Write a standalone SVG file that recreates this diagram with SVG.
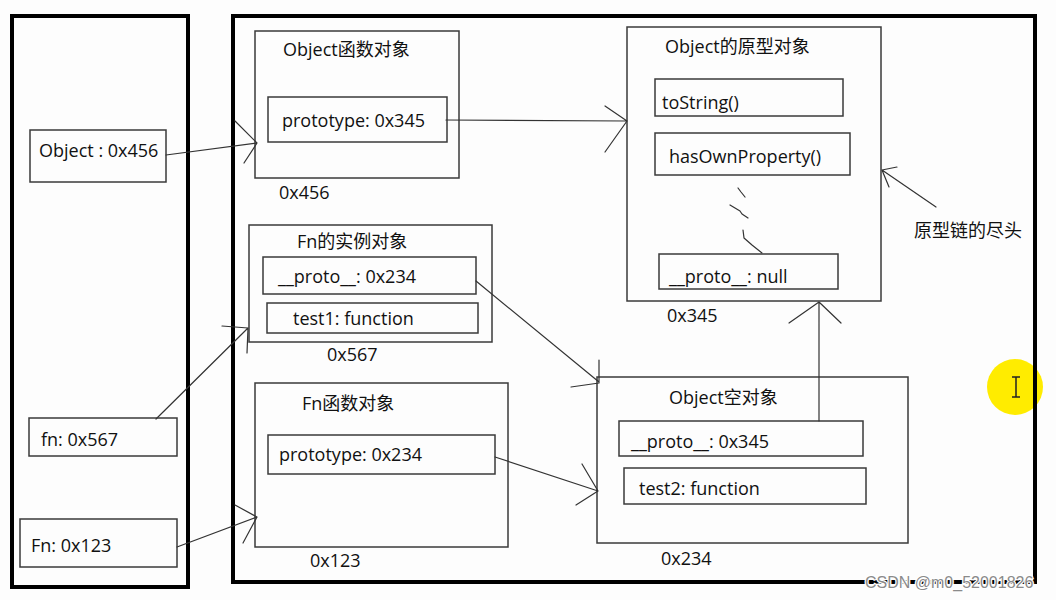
<svg xmlns="http://www.w3.org/2000/svg" width="1056" height="600" viewBox="0 0 1056 600">
<style>
  .frame{fill:none;stroke:#000;stroke-width:4}
  .box{fill:none;stroke:#3a3a3a;stroke-width:1.5}
  .t{font-family:"Open Sans","Noto Sans CJK SC",sans-serif;font-size:18px;fill:#111}
  .ln{fill:none;stroke:#333;stroke-width:1.2;stroke-linecap:round;stroke-linejoin:round}
  .wm{font-family:"Liberation Sans","Open Sans",sans-serif;font-size:16px;fill:#8a8a8a;stroke:#fff;stroke-width:2.5;paint-order:stroke}
</style>
<rect width="1056" height="600" fill="#fdfdfd"/>
<g id="cursor">
  <circle cx="1015" cy="387" r="28" fill="#ffec00"/>
  <path d="M1016,377 L1016,397 M1012,377 L1020,377 M1012,397 L1020,397" fill="none" stroke="#222" stroke-width="1.5"/>
</g>
<g id="stack">
  <rect class="frame" x="12" y="16" width="176" height="571"/>
</g>
<g id="heap">
  <rect class="frame" x="233" y="16" width="802" height="566"/>
</g>
<g id="var-object">
  <rect class="box" x="30" y="130" width="136" height="52"/>
  <text class="t" x="39" y="157">Object : 0x456</text>
</g>
<g id="var-fn">
  <rect class="box" x="29" y="418" width="148" height="38"/>
  <text class="t" x="41" y="446">fn: 0x567</text>
</g>
<g id="var-Fn">
  <rect class="box" x="20" y="519" width="157" height="48"/>
  <text class="t" x="31" y="552">Fn: 0x123</text>
</g>
<g id="object-function">
  <rect class="box" x="255" y="31" width="204" height="147"/>
  <text class="t" x="283" y="56">Object函数对象</text>
  <rect class="box" x="268" y="97" width="179" height="45"/>
  <text class="t" x="282" y="127">prototype: 0x345</text>
  <text class="t" x="279" y="199">0x456</text>
</g>
<g id="fn-instance">
  <rect class="box" x="249" y="225" width="243" height="117"/>
  <text class="t" x="297" y="248">Fn的实例对象</text>
  <rect class="box" x="263" y="257" width="213" height="37"/>
  <text class="t" x="278" y="283">__proto__: 0x234</text>
  <rect class="box" x="267" y="303" width="211" height="30"/>
  <text class="t" x="293" y="325">test1: function</text>
  <text class="t" x="327" y="361">0x567</text>
</g>
<g id="fn-function">
  <rect class="box" x="255" y="383" width="253" height="164"/>
  <text class="t" x="302" y="410">Fn函数对象</text>
  <rect class="box" x="268" y="435" width="227" height="39"/>
  <text class="t" x="279" y="461">prototype: 0x234</text>
  <text class="t" x="310" y="567">0x123</text>
</g>
<g id="object-prototype">
  <rect class="box" x="627" y="27" width="254" height="274"/>
  <text class="t" x="665" y="53">Object的原型对象</text>
  <rect class="box" x="655" y="79" width="188" height="37"/>
  <text class="t" x="662" y="109">toString()</text>
  <rect class="box" x="655" y="133" width="195" height="42"/>
  <text class="t" x="669" y="163">hasOwnProperty()</text>
  <path class="ln" d="M738,188 L741,192 L745,197 M730,205 L740,211 L742,214 L748,218 M743,230 L744,238 L752,245 L762,253"/>
  <rect class="box" x="659" y="254" width="179" height="35"/>
  <text class="t" x="669" y="283">__proto__: null</text>
  <text class="t" x="667" y="322">0x345</text>
</g>
<g id="object-empty">
  <rect class="box" x="597" y="377" width="311" height="166"/>
  <text class="t" x="669" y="404">Object空对象</text>
  <rect class="box" x="619" y="421" width="244" height="35"/>
  <text class="t" x="631" y="448">__proto__: 0x345</text>
  <rect class="box" x="624" y="468" width="242" height="36"/>
  <text class="t" x="639" y="495">test2: function</text>
  <text class="t" x="661" y="565">0x234</text>
</g>
<g id="chain-end">
  <text class="t" x="914" y="237">原型链的尽头</text>
</g>
<g id="connectors">
  <path class="ln" d="M166,155 L257,143 M235,121 L257,143 L244,163"/>
  <path class="ln" d="M446,120 L627,121 M605,106 L627,121 L605,152"/>
  <path class="ln" d="M156,419 L248,328 M222,326 L248,328 L247,353"/>
  <path class="ln" d="M177,547 L257,517 M235,505 L257,517 L243,543"/>
  <path class="ln" d="M476,281 L599,382 M599,360 L599,383 L571,387"/>
  <path class="ln" d="M495,457 L598,491 M582,464 L598,491 L576,505"/>
  <path class="ln" d="M819,421 L819,302 M789,323 L819,302 L841,323"/>
  <path class="ln" d="M936,207 L882,170 M897,167 L882,170 L889,187"/>
</g>
<text class="wm" x="865" y="588">CSDN @m0_52001826</text>
</svg>
